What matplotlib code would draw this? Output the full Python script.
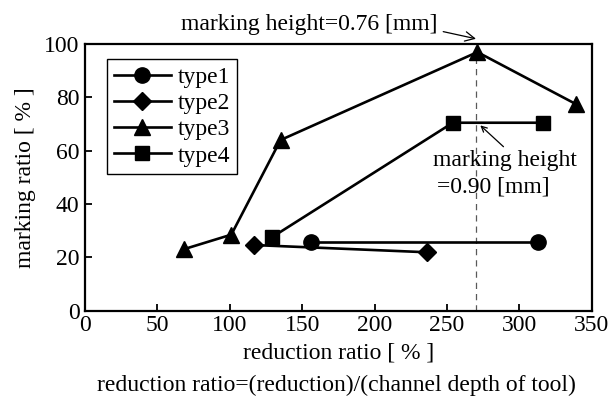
import matplotlib.pyplot as plt

plt.rcParams['font.family'] = ['Liberation Serif', 'DejaVu Serif']

# Data -----------------------------------------------------------------------

type1_x = [156, 313]
type1_y = [25.8, 25.8]

type2_x = [117, 236]
type2_y = [24.6, 21.9]

type3_x = [68, 101, 135, 271, 339]
type3_y = [23.0, 28.5, 64.0, 97.0, 77.5]

type4_x = [129, 254, 316]
type4_y = [27.5, 70.5, 70.5]

marking_x = 270  # reduction ratio where the dashed line sits

x_ticks = [0, 50, 100, 150, 200, 250, 300, 350]
y_ticks = [0, 20, 40, 60, 80, 100]

# Plot ------------------------------------------------------------------------

fig = plt.figure(figsize=(6.12, 4.01), dpi=100)
ax = fig.add_axes([0.139, 0.2254, 0.967 - 0.139, 0.890 - 0.2254])

lw = 1.9
ax.plot(type1_x, type1_y, 'k-', marker='o', ms=11, lw=lw, label='type1')
ax.plot(type2_x, type2_y, 'k-', marker='D', ms=9, lw=lw, label='type2')
ax.plot(type3_x, type3_y, 'k-', marker='^', ms=12, lw=lw, label='type3')
ax.plot(type4_x, type4_y, 'k-', marker='s', ms=10, lw=lw, label='type4')

ax.axvline(marking_x, color='0.35', lw=0.9, ls=(0, (5, 4)), zorder=1)

ax.set_xlim(0, 350)
ax.set_ylim(0, 100)
ax.set_xticks(x_ticks)
ax.set_yticks(y_ticks)
ax.tick_params(direction='in', length=5, width=1.3, labelsize=17,
               top=False, right=False)
ax.tick_params(axis='x', pad=3)
ax.tick_params(axis='y', pad=4)
for s in ax.spines.values():
    s.set_linewidth(1.6)

ax.set_xlabel('reduction ratio [ % ]', fontsize=17, labelpad=5)
ax.set_ylabel('marking ratio [ % ]', fontsize=17, labelpad=6)
fig.text(0.549, 0.04, 'reduction ratio=(reduction)/(channel depth of tool)',
         ha='center', va='center', fontsize=17)

leg = ax.legend(loc='upper left', bbox_to_anchor=(0.043, 0.943),
                borderaxespad=0, fontsize=17, handlelength=2.4,
                handletextpad=0.3, labelspacing=0.2, borderpad=0.3,
                fancybox=False, edgecolor='k', framealpha=1)
leg.get_frame().set_linewidth(1.0)

# annotations
ax.annotate('marking height=0.76 [mm]', xy=(270, 102), xytext=(155, 107.5),
            ha='center', va='center', fontsize=17, annotation_clip=False,
            arrowprops=dict(arrowstyle='->', lw=0.9, color='k',
                            relpos=(1.0, 0.2), shrinkA=2, shrinkB=0))
ax.annotate('', xy=(273, 69.5), xytext=(289, 61.5),
            arrowprops=dict(arrowstyle='->', lw=0.9, color='k',
                            shrinkA=0, shrinkB=0))
ax.text(240, 56.5, 'marking height', ha='left', va='center', fontsize=17)
ax.text(243, 46.3, '=0.90 [mm]', ha='left', va='center', fontsize=17)

fig.savefig('out.png', dpi=100)
